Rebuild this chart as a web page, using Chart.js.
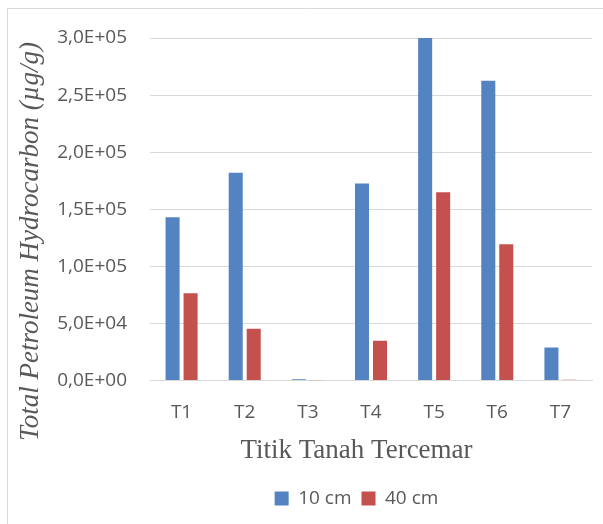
<!DOCTYPE html>
<html>
<head>
<meta charset="utf-8">
<script src="https://cdn.jsdelivr.net/npm/chart.js@4"></script>
<style>
html,body{margin:0;padding:0;background:#fff;}
#wrap{position:relative;width:603px;height:524px;}
</style>
</head>
<body>
<div id="wrap"><canvas id="c" width="603" height="524"></canvas></div>
<script>
const categories = ["T1", "T2", "T3", "T4", "T5", "T6", "T7"];
const seriesNames = ["10 cm", "40 cm"];
const values10cm = [143000, 182000, 1200, 172500, 300000, 262500, 29000];
const values40cm = [76500, 45500, 200, 34800, 165000, 119500, 800];
const yTicks = [0, 50000, 100000, 150000, 200000, 250000, 300000];
const yTitle = "Total Petroleum Hydrocarbon (µg/g)";
const xTitle = "Titik Tanah Tercemar";

const textColor = "#595959";
const gridColor = "#d9d9d9";

function fmtSci(v) {
  const s = Number(v).toExponential(1);
  const m = s.split("e");
  const mant = m[0].replace(".", ",");
  let exp = parseInt(m[1], 10);
  const sign = exp < 0 ? "-" : "+";
  exp = Math.abs(exp);
  return mant + "E" + sign + (exp < 10 ? "0" + exp : "" + exp);
}

const SHIFT = 57;
const decorPlugin = {
  id: "decor",
  afterLayout(chart) {
    const boxes = [chart.legend, chart.titleBlock];
    boxes.forEach(b => { if (b) { b.left += SHIFT; b.right += SHIFT; } });
  },
  beforeDraw(chart) {
    const ctx = chart.ctx;
    ctx.save();
    ctx.strokeStyle = gridColor;
    ctx.lineWidth = 1;
    ctx.beginPath();
    ctx.moveTo(7.5, 524);
    ctx.lineTo(7.5, 8.5);
    ctx.lineTo(603, 8.5);
    ctx.stroke();
    ctx.restore();
  },
  afterDraw(chart) {
    const ctx = chart.ctx;
    ctx.save();
    ctx.translate(31, 241.5);
    ctx.rotate(-Math.PI / 2);
    ctx.font = "italic 27px 'Liberation Serif'";
    ctx.fillStyle = textColor;
    ctx.textAlign = "center";
    ctx.textBaseline = "middle";
    ctx.fillText(yTitle, 0, 0);
    ctx.restore();
  }
};

new Chart(document.getElementById("c"), {
  type: "bar",
  data: {
    labels: categories,
    datasets: [
      { label: seriesNames[0], data: values10cm, backgroundColor: "#5383c1", borderWidth: 0,
        categoryPercentage: 0.57, barPercentage: 0.78 },
      { label: seriesNames[1], data: values40cm, backgroundColor: "#c5514e", borderWidth: 0,
        categoryPercentage: 0.57, barPercentage: 0.78 }
    ]
  },
  options: {
    responsive: false,
    animation: false,
    devicePixelRatio: 1,
    layout: { padding: { left: 7, right: 11, top: 38, bottom: 6 } },
    plugins: {
      tooltip: { enabled: false },
      legend: {
        position: "bottom",
        labels: {
          color: textColor,
          font: { family: "'Open Sans'", size: 19 },
          boxWidth: 14,
          boxHeight: 14,
          padding: 10
        }
      },
      title: {
        display: true,
        text: xTitle,
        position: "bottom",
        weight: 500,
        color: textColor,
        font: { family: "'Liberation Serif'", size: 27, weight: "normal" },
        padding: { top: 9, bottom: 12 }
      }
    },
    scales: {
      x: {
        afterFit(scale) { scale.height = 45; },
        grid: { display: false, drawTicks: false },
        border: { display: true, color: gridColor },
        ticks: { color: textColor, font: { family: "'Open Sans'", size: 19 }, padding: 21 }
      },
      y: {
        min: 0,
        max: 300000,
        afterFit(scale) { scale.width = 143; },
        afterBuildTicks(scale) { scale.ticks = yTicks.map(v => ({ value: v })); },
        grid: { color: gridColor, drawTicks: false },
        border: { display: false },
        ticks: {
          color: textColor,
          font: { family: "'Open Sans'", size: 19 },
          padding: 23,
          callback: (v) => fmtSci(v)
        }
      }
    }
  },
  plugins: [decorPlugin]
});
</script>
</body>
</html>
